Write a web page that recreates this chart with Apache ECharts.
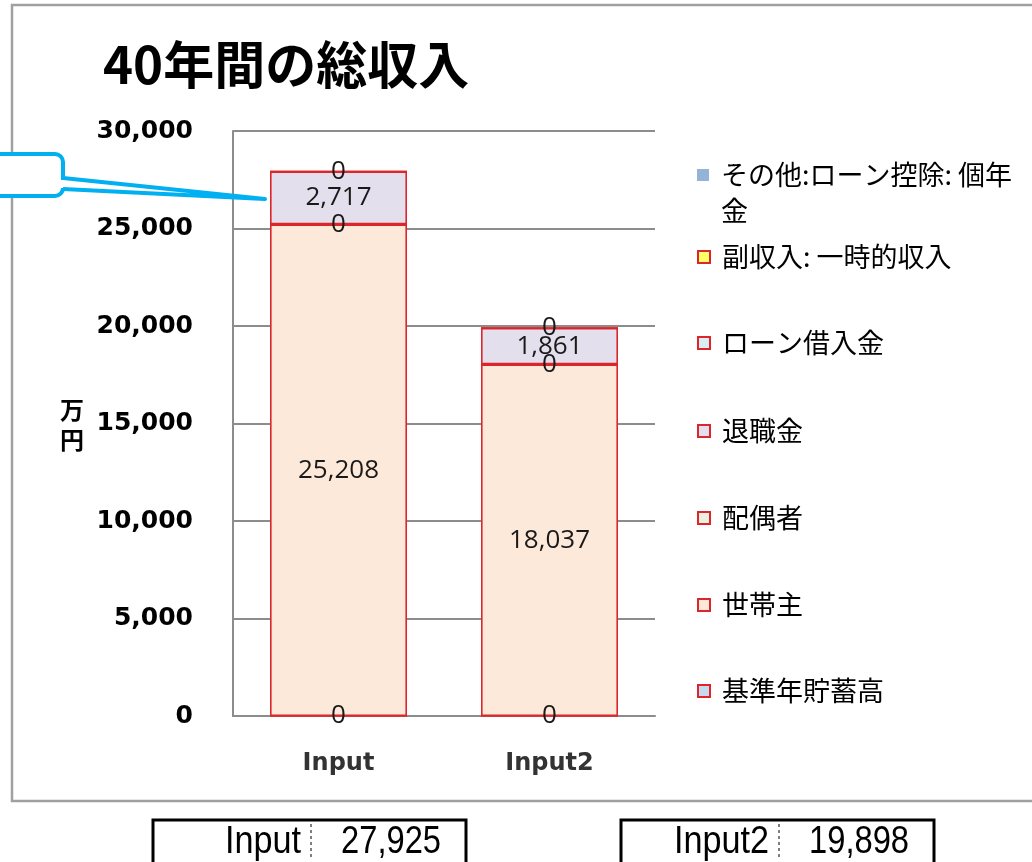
<!DOCTYPE html>
<html>
<head>
<meta charset="utf-8">
<script src="https://cdn.jsdelivr.net/npm/echarts@6/dist/echarts.min.js"></script>
<style>
  html, body { margin: 0; padding: 0; background: #fff; }
  #chart { width: 1032px; height: 862px; }
</style>
</head>
<body>
<div id="chart"></div>
<script>
// データ
let categories = ['Input', 'Input2'];
let seriesNames = ['基準年貯蓄高', '世帯主', '配偶者', '退職金', 'ローン借入金', '副収入: 一時的収入', 'その他:ローン控除: 個年金'];
let kijun = [0, 0];
let setainushi = [25208, 18037];
let haigusha = [0, 0];
let taishokukin = [2717, 1861];
let loan = [0, 0];
let fukushunyu = [0, 0];
let sonota = [0, 0];
let yTicks = [0, 5000, 10000, 15000, 20000, 25000, 30000];

let values = [kijun, setainushi, haigusha, taishokukin, loan, fukushunyu, sonota];
let fills = ['#C5D9F1', '#FDE9D9', '#EBF1DE', '#E4DFEC', '#DAEEF3', '#FFFF66', '#95B3D7'];
let showLabel = [true, true, true, true, true, false, false];
// 凡例の縦位置 (中心)
let legendCenters = [691, 605, 518, 431, 343, 257, 175];

let fmt = function (v) {
  return Number(v).toLocaleString('en-US');
};

let totals = categories.map(function (c, i) {
  return values.reduce(function (s, arr) { return s + arr[i]; }, 0);
});

let chart = echarts.init(document.getElementById('chart'));

let series = seriesNames.map(function (name, k) {
  let last = k === seriesNames.length - 1;
  return {
    type: 'bar',
    name: name,
    stack: 'total',
    barWidth: 137,
    data: values[k],
    itemStyle: {
      color: fills[k],
      borderColor: last ? fills[k] : '#DC262B',
      borderWidth: last ? 0 : 1.6
    },
    label: {
      show: showLabel[k],
      position: 'inside',
      fontFamily: 'Open Sans',
      fontSize: 26,
      color: '#1a1a1a',
      formatter: function (p) { return fmt(p.value); }
    },
    emphasis: { disabled: true }
  };
});

let legends = seriesNames.map(function (name, k) {
  let multi = k === seriesNames.length - 1;
  return {
    data: [name],
    orient: 'vertical',
    left: 697,
    top: multi ? legendCenters[k] - 54 : legendCenters[k] - 15,
    padding: 0,
    icon: 'rect',
    itemWidth: 12,
    itemHeight: 12,
    selectedMode: false,
    formatter: multi ? function (n) { return '\n' + n.replace('個年', '個年\n'); } : '{name}',
    textStyle: {
      fontFamily: 'Noto Sans CJK JP',
      fontSize: 27,
      color: '#000',
      padding: [0, 0, 0, 7],
      lineHeight: multi ? 36 : 30
    }
  };
});

function boxGroup(x, label, total) {
  let font = '38px "Liberation Sans Narrow", "Liberation Sans"';
  return {
    type: 'group',
    children: [
      { type: 'rect', shape: { x: x, y: 820, width: 313, height: 46 },
        style: { fill: '#fff', stroke: '#000', lineWidth: 3 } },
      { type: 'text', x: x + 148, y: 843, scaleX: 0.9,
        style: { text: label, align: 'right', verticalAlign: 'middle', font: font, fill: '#000' } },
      { type: 'line', shape: { x1: x + 158, y1: 824, x2: x + 158, y2: 860 },
        style: { stroke: '#000', lineWidth: 1, lineDash: [3, 3] } },
      { type: 'text', x: x + 288, y: 843, scaleX: 0.86,
        style: { text: fmt(total), align: 'right', verticalAlign: 'middle', font: font, fill: '#000' } }
    ]
  };
}

chart.setOption({
  backgroundColor: '#fff',
  animation: false,
  title: {
    text: '40年間の総収入',
    left: 98,
    top: 34,
    textStyle: {
      fontFamily: 'Noto Sans CJK JP',
      fontWeight: 'bold',
      fontSize: 51,
      color: '#000'
    }
  },
  legend: legends,
  grid: {
    left: 233,
    right: 377,
    top: 131,
    bottom: 146
  },
  xAxis: {
    type: 'category',
    data: categories,
    axisLine: { lineStyle: { color: '#8c8c8c', width: 2 } },
    axisTick: { show: false },
    axisLabel: {
      margin: 36,
      fontFamily: 'DejaVu Sans',
      fontWeight: 'bold',
      fontSize: 24,
      color: '#333'
    }
  },
  yAxis: {
    type: 'value',
    min: yTicks[0],
    max: yTicks[yTicks.length - 1],
    interval: 5000,
    axisLine: { show: true, lineStyle: { color: '#8c8c8c', width: 2 } },
    axisTick: { show: false },
    splitLine: { lineStyle: { color: '#8c8c8c', width: 2 } },
    axisLabel: {
      margin: 40,
      fontFamily: 'DejaVu Sans',
      fontWeight: 'bold',
      fontSize: 25,
      color: '#000',
      padding: [6, 0, 0, 0],
      formatter: function (v) { return fmt(v); }
    }
  },
  series: series,
  graphic: [
    { type: 'rect', shape: { x: 12, y: 5, width: 1040, height: 796 },
      style: { fill: 'none', stroke: '#a0a0a0', lineWidth: 2.5 }, z: 100 },
    { type: 'text', x: 72, y: 425,
      style: { text: '万\n円', align: 'center', verticalAlign: 'middle', lineHeight: 30,
               font: 'bold 24px "Noto Sans CJK JP"', fill: '#000' } },
    // 吹き出し
    { type: 'rect', z: 100, shape: { x: -20, y: 154, width: 83, height: 42, r: [0, 8, 8, 0] },
      style: { fill: '#fff', stroke: '#00B0F0', lineWidth: 4 } },
    { type: 'rect', z: 101, shape: { x: 60, y: 180, width: 6, height: 8 },
      style: { fill: '#fff' } },
    { type: 'polyline', z: 101, shape: { points: [[63, 178], [265, 199], [63, 189]] },
      style: { fill: 'none', stroke: '#00B0F0', lineWidth: 4, lineJoin: 'round' } },
    boxGroup(153, categories[0], totals[0]),
    boxGroup(621, categories[1], totals[1])
  ]
});
</script>
</body>
</html>
